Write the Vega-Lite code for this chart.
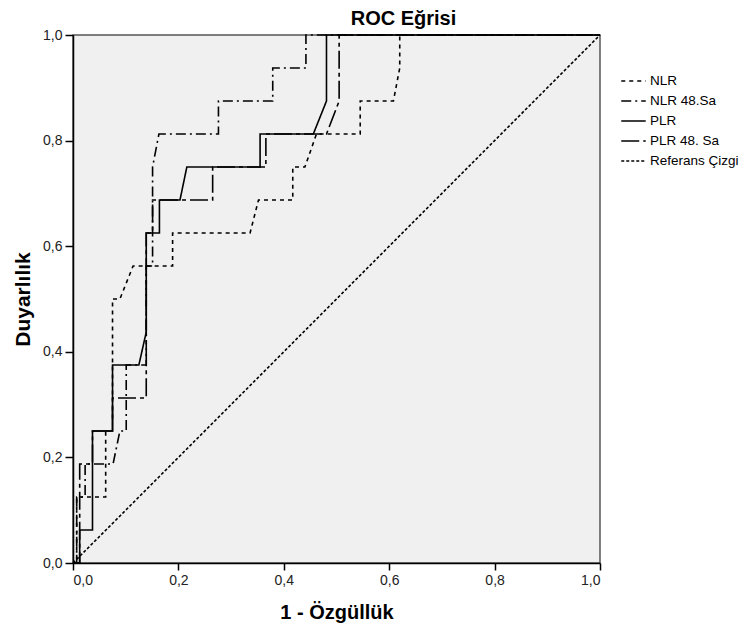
{
  "$schema": "https://vega.github.io/schema/vega-lite/v6.json",
  "width": 527,
  "height": 528,
  "autosize": {"type": "none"},
  "padding": {"left": 73, "top": 35, "right": 147, "bottom": 63},
  "background": "white",
  "title": {"text": "ROC Eğrisi", "font": "Liberation Sans", "fontSize": 20, "fontWeight": "bold", "color": "#000", "anchor": "middle", "frame": "group", "dx": 67, "dy": 25, "offset": 8, "baseline": "alphabetic"},
  "config": {
    "view": {"fill": "#f0f0f0", "stroke": "#555", "strokeWidth": 1.5}
  },
  "data": {"values": [
    {"s": "PLR", "i": 0, "fpr": 0, "tpr": 0},
    {"s": "PLR", "i": 1, "fpr": 0.0127, "tpr": 0},
    {"s": "PLR", "i": 2, "fpr": 0.0127, "tpr": 0.0625},
    {"s": "PLR", "i": 3, "fpr": 0.037, "tpr": 0.0625},
    {"s": "PLR", "i": 4, "fpr": 0.037, "tpr": 0.25},
    {"s": "PLR", "i": 5, "fpr": 0.075, "tpr": 0.25},
    {"s": "PLR", "i": 6, "fpr": 0.075, "tpr": 0.375},
    {"s": "PLR", "i": 7, "fpr": 0.125, "tpr": 0.375},
    {"s": "PLR", "i": 8, "fpr": 0.139, "tpr": 0.4375},
    {"s": "PLR", "i": 9, "fpr": 0.139, "tpr": 0.625},
    {"s": "PLR", "i": 10, "fpr": 0.164, "tpr": 0.625},
    {"s": "PLR", "i": 11, "fpr": 0.164, "tpr": 0.6875},
    {"s": "PLR", "i": 12, "fpr": 0.203, "tpr": 0.6875},
    {"s": "PLR", "i": 13, "fpr": 0.216, "tpr": 0.75},
    {"s": "PLR", "i": 14, "fpr": 0.355, "tpr": 0.75},
    {"s": "PLR", "i": 15, "fpr": 0.355, "tpr": 0.8125},
    {"s": "PLR", "i": 16, "fpr": 0.456, "tpr": 0.8125},
    {"s": "PLR", "i": 17, "fpr": 0.481, "tpr": 0.875},
    {"s": "PLR", "i": 18, "fpr": 0.481, "tpr": 1},
    {"s": "PLR", "i": 19, "fpr": 1, "tpr": 1},

    {"s": "PLR 48. Sa", "i": 0, "fpr": 0, "tpr": 0},
    {"s": "PLR 48. Sa", "i": 1, "fpr": 0.0127, "tpr": 0},
    {"s": "PLR 48. Sa", "i": 2, "fpr": 0.0127, "tpr": 0.1875},
    {"s": "PLR 48. Sa", "i": 3, "fpr": 0.037, "tpr": 0.1875},
    {"s": "PLR 48. Sa", "i": 4, "fpr": 0.037, "tpr": 0.25},
    {"s": "PLR 48. Sa", "i": 5, "fpr": 0.075, "tpr": 0.25},
    {"s": "PLR 48. Sa", "i": 6, "fpr": 0.075, "tpr": 0.3125},
    {"s": "PLR 48. Sa", "i": 7, "fpr": 0.139, "tpr": 0.3125},
    {"s": "PLR 48. Sa", "i": 8, "fpr": 0.139, "tpr": 0.625},
    {"s": "PLR 48. Sa", "i": 9, "fpr": 0.151, "tpr": 0.625},
    {"s": "PLR 48. Sa", "i": 10, "fpr": 0.151, "tpr": 0.6875},
    {"s": "PLR 48. Sa", "i": 11, "fpr": 0.265, "tpr": 0.6875},
    {"s": "PLR 48. Sa", "i": 12, "fpr": 0.265, "tpr": 0.75},
    {"s": "PLR 48. Sa", "i": 13, "fpr": 0.366, "tpr": 0.75},
    {"s": "PLR 48. Sa", "i": 14, "fpr": 0.366, "tpr": 0.8125},
    {"s": "PLR 48. Sa", "i": 15, "fpr": 0.481, "tpr": 0.8125},
    {"s": "PLR 48. Sa", "i": 16, "fpr": 0.505, "tpr": 0.875},
    {"s": "PLR 48. Sa", "i": 17, "fpr": 0.505, "tpr": 1},
    {"s": "PLR 48. Sa", "i": 18, "fpr": 1, "tpr": 1},

    {"s": "NLR 48.Sa", "i": 0, "fpr": 0, "tpr": 0},
    {"s": "NLR 48.Sa", "i": 1, "fpr": 0.007, "tpr": 0},
    {"s": "NLR 48.Sa", "i": 2, "fpr": 0.007, "tpr": 0.125},
    {"s": "NLR 48.Sa", "i": 3, "fpr": 0.023, "tpr": 0.125},
    {"s": "NLR 48.Sa", "i": 4, "fpr": 0.023, "tpr": 0.1875},
    {"s": "NLR 48.Sa", "i": 5, "fpr": 0.076, "tpr": 0.1875},
    {"s": "NLR 48.Sa", "i": 6, "fpr": 0.089, "tpr": 0.25},
    {"s": "NLR 48.Sa", "i": 7, "fpr": 0.101, "tpr": 0.25},
    {"s": "NLR 48.Sa", "i": 8, "fpr": 0.101, "tpr": 0.375},
    {"s": "NLR 48.Sa", "i": 9, "fpr": 0.139, "tpr": 0.375},
    {"s": "NLR 48.Sa", "i": 10, "fpr": 0.139, "tpr": 0.5625},
    {"s": "NLR 48.Sa", "i": 11, "fpr": 0.151, "tpr": 0.5625},
    {"s": "NLR 48.Sa", "i": 12, "fpr": 0.151, "tpr": 0.75},
    {"s": "NLR 48.Sa", "i": 13, "fpr": 0.163, "tpr": 0.8125},
    {"s": "NLR 48.Sa", "i": 14, "fpr": 0.276, "tpr": 0.8125},
    {"s": "NLR 48.Sa", "i": 15, "fpr": 0.276, "tpr": 0.875},
    {"s": "NLR 48.Sa", "i": 16, "fpr": 0.379, "tpr": 0.875},
    {"s": "NLR 48.Sa", "i": 17, "fpr": 0.379, "tpr": 0.9375},
    {"s": "NLR 48.Sa", "i": 18, "fpr": 0.442, "tpr": 0.9375},
    {"s": "NLR 48.Sa", "i": 19, "fpr": 0.442, "tpr": 1},
    {"s": "NLR 48.Sa", "i": 20, "fpr": 1, "tpr": 1},

    {"s": "NLR", "i": 0, "fpr": 0, "tpr": 0},
    {"s": "NLR", "i": 1, "fpr": 0.007, "tpr": 0},
    {"s": "NLR", "i": 2, "fpr": 0.007, "tpr": 0.125},
    {"s": "NLR", "i": 3, "fpr": 0.062, "tpr": 0.125},
    {"s": "NLR", "i": 4, "fpr": 0.062, "tpr": 0.25},
    {"s": "NLR", "i": 5, "fpr": 0.075, "tpr": 0.25},
    {"s": "NLR", "i": 6, "fpr": 0.075, "tpr": 0.5},
    {"s": "NLR", "i": 7, "fpr": 0.089, "tpr": 0.5},
    {"s": "NLR", "i": 8, "fpr": 0.114, "tpr": 0.5625},
    {"s": "NLR", "i": 9, "fpr": 0.189, "tpr": 0.5625},
    {"s": "NLR", "i": 10, "fpr": 0.189, "tpr": 0.625},
    {"s": "NLR", "i": 11, "fpr": 0.336, "tpr": 0.625},
    {"s": "NLR", "i": 12, "fpr": 0.352, "tpr": 0.6875},
    {"s": "NLR", "i": 13, "fpr": 0.417, "tpr": 0.6875},
    {"s": "NLR", "i": 14, "fpr": 0.417, "tpr": 0.75},
    {"s": "NLR", "i": 15, "fpr": 0.44, "tpr": 0.75},
    {"s": "NLR", "i": 16, "fpr": 0.462, "tpr": 0.8125},
    {"s": "NLR", "i": 17, "fpr": 0.545, "tpr": 0.8125},
    {"s": "NLR", "i": 18, "fpr": 0.545, "tpr": 0.875},
    {"s": "NLR", "i": 19, "fpr": 0.608, "tpr": 0.875},
    {"s": "NLR", "i": 20, "fpr": 0.62, "tpr": 0.9375},
    {"s": "NLR", "i": 21, "fpr": 0.62, "tpr": 1},
    {"s": "NLR", "i": 22, "fpr": 1, "tpr": 1},

    {"s": "Referans Çizgi", "i": 0, "fpr": 0, "tpr": 0},
    {"s": "Referans Çizgi", "i": 1, "fpr": 1, "tpr": 1}
  ]},
  "mark": {"type": "line", "color": "black", "strokeWidth": 1.6, "clip": false},
  "encoding": {
    "x": {
      "field": "fpr", "type": "quantitative",
      "scale": {"domain": [0, 1], "nice": false, "zero": false},
      "axis": {
        "title": "1 - Özgüllük", "values": [0, 0.2, 0.4, 0.6, 0.8, 1],
        "labelExpr": "replace(format(datum.value, '.1f'), '.', ',')",
        "grid": false, "domainColor": "#000", "domainWidth": 1.5, "tickColor": "#000", "tickWidth": 1.5, "tickSize": 7,
        "labelFont": "Liberation Sans", "labelFontSize": 14, "labelColor": "#222", "labelPadding": 3,
        "titleFont": "Liberation Sans", "titleFontSize": 20, "titleFontWeight": "bold", "titleColor": "#000", "titlePadding": 15
      }
    },
    "y": {
      "field": "tpr", "type": "quantitative",
      "scale": {"domain": [0, 1], "nice": false, "zero": false},
      "axis": {
        "title": "Duyarlılık", "values": [0, 0.2, 0.4, 0.6, 0.8, 1],
        "labelExpr": "replace(format(datum.value, '.1f'), '.', ',')",
        "grid": false, "domainColor": "#000", "domainWidth": 1.5, "tickColor": "#000", "tickWidth": 1.5, "tickSize": 8,
        "labelFont": "Liberation Sans", "labelFontSize": 14, "labelColor": "#222", "labelPadding": 3,
        "titleFont": "Liberation Sans", "titleFontSize": 21, "titleFontWeight": "bold", "titleColor": "#000", "titlePadding": 9
      }
    },
    "strokeDash": {
      "field": "s", "type": "nominal",
      "scale": {
        "domain": ["NLR", "NLR 48.Sa", "PLR", "PLR 48. Sa", "Referans Çizgi"],
        "range": [[4, 4], [10, 4, 2, 4], [1, 0], [18, 4, 4, 4], [3, 2]]
      },
      "legend": {
        "title": null, "orient": "none", "legendX": 547, "legendY": 32.5, "padding": 0,
        "symbolType": "stroke", "symbolSize": 600, "symbolStrokeWidth": 1.6, "symbolStrokeColor": "#000",
        "labelFont": "Liberation Sans", "labelFontSize": 13.5, "labelColor": "#000", "labelOffset": 3, "rowPadding": -4.2
      }
    },
    "order": {"field": "i"}
  }
}
